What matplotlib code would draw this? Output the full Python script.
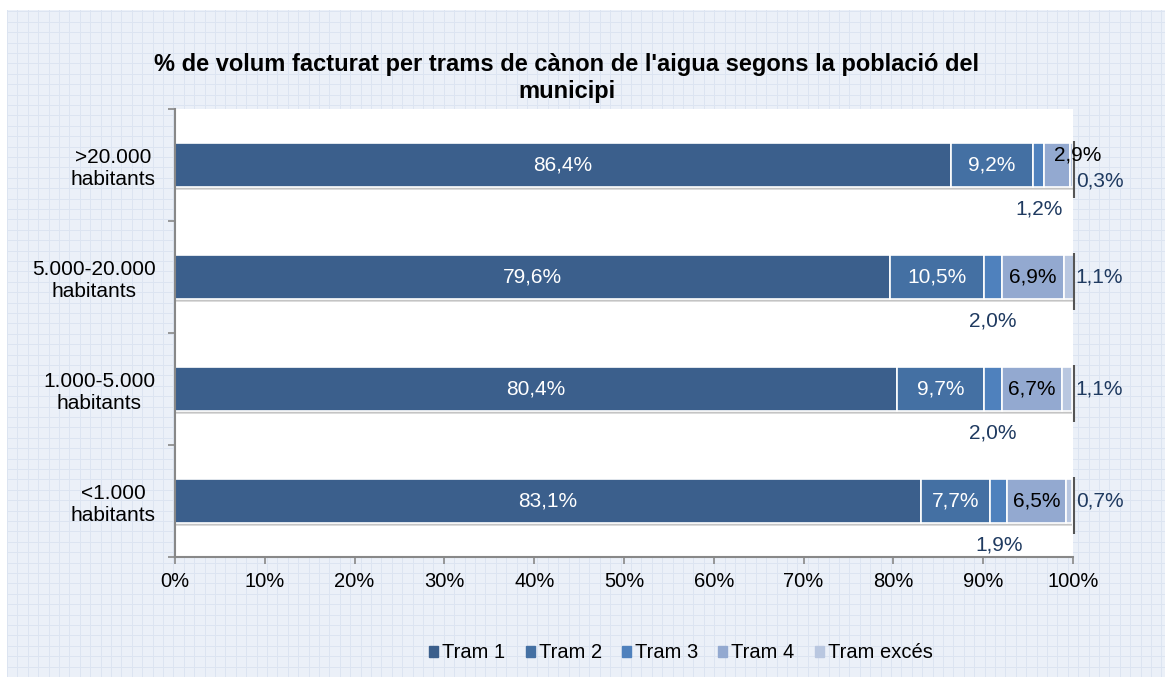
import numpy as np
import matplotlib.pyplot as plt

plt.rcParams['font.family'] = ['Liberation Sans', 'DejaVu Sans']

categories = ['>20.000\nhabitants', '5.000-20.000\nhabitants', '1.000-5.000\nhabitants', '<1.000\nhabitants']
series = ['Tram 1', 'Tram 2', 'Tram 3', 'Tram 4', 'Tram excés']
tram1 = [86.4, 79.6, 80.4, 83.1]
tram2 = [9.2, 10.5, 9.7, 7.7]
tram3 = [1.2, 2.0, 2.0, 1.9]
tram4 = [2.9, 6.9, 6.7, 6.5]
tram_exces = [0.3, 1.1, 1.1, 0.7]
colors = ['#3B5F8C', '#4470A3', '#4F81BD', '#93A9D0', '#B9C7E0']

title = "% de volum facturat per trams de cànon de l'aigua segons la població del\nmunicipi"


def fmt(v):
    return ('%.1f%%' % v).replace('.', ',')


fig = plt.figure(figsize=(11.69, 6.81), dpi=100)
fig.patch.set_facecolor('white')

# fons quadriculat
bg = fig.add_axes([7 / 1169, 4 / 681, 1158 / 1169, 667 / 681])
bg.set_facecolor('#EBF0F8')
bg.set_xlim(0, 1158)
bg.set_ylim(0, 667)
for gx in np.arange(0, 1158, 10.4):
    bg.axvline(gx, color='#DCE4F1', lw=0.7)
for gy in np.arange(0, 667, 10.4):
    bg.axhline(gy, color='#DCE4F1', lw=0.7)
bg.set_xticks([])
bg.set_yticks([])
for s in bg.spines.values():
    s.set_visible(False)

ax = fig.add_axes([175 / 1169, 1 - 557 / 681, 898 / 1169, 448 / 681])
ax.set_facecolor('white')

y = np.arange(len(categories))
h = 0.385
data = [tram1, tram2, tram3, tram4, tram_exces]
totals = np.sum(data, axis=0)

# ombra
ax.barh(y + 0.035, totals, height=h, color='#000000', alpha=0.14, zorder=1)
ax.barh(y + 0.018, totals, height=h, color='#000000', alpha=0.10, zorder=1)

left = np.zeros(len(categories))
for vals, name, col in zip(data, series, colors):
    ax.barh(y, vals, left=left, height=h, color=col, edgecolor='white',
            linewidth=1.2, label=name, zorder=2)
    left += np.array(vals)

ax.vlines([100.1] * len(y), y - h / 2 - 0.02, y + h / 2 + 0.1, color='#555555', lw=1.5, zorder=3,
          clip_on=False)

fs = 15
for i in range(len(categories)):
    l1 = tram1[i]
    l2 = l1 + tram2[i]
    l3 = l2 + tram3[i]
    ax.text(l1 / 2, y[i], fmt(tram1[i]), color='white', ha='center', va='center', fontsize=fs, zorder=4)
    ax.text(l1 + tram2[i] / 2, y[i], fmt(tram2[i]), color='white', ha='center', va='center', fontsize=fs, zorder=4)
    ax.text(l2 + tram3[i] / 2, y[i] + 0.39, fmt(tram3[i]), color='#1F3A60', ha='center', va='center', fontsize=fs, zorder=4)
    if i == 0:
        ax.text(l3 + tram4[i] / 2 + 2.3, y[i] - 0.09, fmt(tram4[i]), color='black', ha='center', va='center', fontsize=fs, zorder=4, clip_on=False)
        ax.text(100.4, y[i] + 0.14, fmt(tram_exces[i]), color='#1F3A60', ha='left', va='center', fontsize=fs, zorder=4)
    else:
        ax.text(l3 + tram4[i] / 2, y[i], fmt(tram4[i]), color='black', ha='center', va='center', fontsize=fs, zorder=4)
        ax.text(100.3, y[i], fmt(tram_exces[i]), color='#1F3A60', ha='left', va='center', fontsize=fs, zorder=4)

ax.set_xlim(0, 100)
ax.set_ylim(len(categories) - 0.5, -0.5)
ax.set_xticks(np.arange(0, 101, 10))
ax.set_xticklabels(['%d%%' % v for v in range(0, 101, 10)], fontsize=14.5)
ax.set_yticks(y)
ax.set_yticklabels(categories, fontsize=15, ha='right', multialignment='center')
ax.tick_params(axis='y', which='major', length=0, pad=14)
ax.set_yticks(np.arange(-0.5, len(categories), 1), minor=True)
ax.tick_params(axis='y', which='minor', length=5, color='#888888', width=1.2)
ax.tick_params(axis='x', length=5, color='#888888', width=1.2, pad=6)
for s in ['top', 'right']:
    ax.spines[s].set_visible(False)
for s in ['left', 'bottom']:
    ax.spines[s].set_color('#888888')
    ax.spines[s].set_linewidth(1.5)

fig.text(567 / 1169, 1 - 78 / 681, title, ha='center', va='center', fontsize=17,
         fontweight='bold', linespacing=1.2)

handles = [plt.Rectangle((0, 0), 1, 1, color=c) for c in colors]
fig.legend(handles, series, loc='center', bbox_to_anchor=(681 / 1169, 1 - 653 / 681), ncol=5,
           frameon=False, fontsize=14.5, handlelength=0.45, handleheight=0.45,
           handletextpad=0.2, columnspacing=1.0)

fig.savefig('out.png', dpi=100)
